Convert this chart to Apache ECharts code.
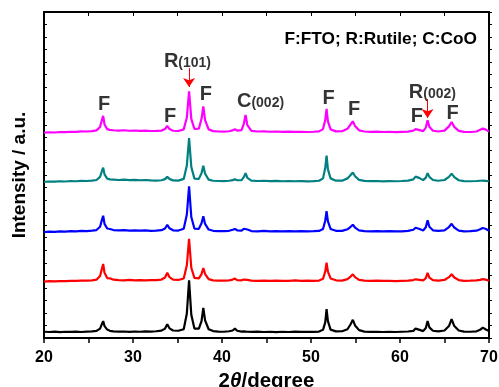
<!DOCTYPE html>
<html>
<head>
<meta charset="utf-8">
<script src="https://cdn.jsdelivr.net/npm/echarts@6/dist/echarts.min.js"></script>
<style>
  html, body { margin: 0; padding: 0; background: #fff; }
  #chart { width: 499px; height: 387px; }
</style>
</head>
<body>
<div id="chart"></div>
<script>
// Diffraction angle grid (2θ, degrees)
const twoTheta = [
  20.0, 20.6, 21.2, 21.8, 22.4, 23.0, 23.6, 24.2, 24.8, 25.4,
  25.9, 26.3, 26.5, 26.65, 26.8, 27.1, 27.4, 27.8, 28.4, 29.0,
  29.6, 30.2, 30.8, 31.4, 32.0, 32.6, 33.2, 33.6, 33.85, 34.1,
  34.5, 35.1, 35.7, 36.05, 36.3, 36.55, 36.9, 37.4, 37.7, 37.9,
  38.1, 38.5, 39.0, 39.6, 40.2, 40.8, 41.2, 41.45, 41.7, 42.2,
  42.45, 42.65, 42.85, 43.3, 44.0, 44.7, 45.4, 46.1, 46.8, 47.5,
  48.2, 48.9, 49.6, 50.3, 50.9, 51.35, 51.6, 51.75, 51.9, 52.2,
  52.8, 53.5, 54.1, 54.45, 54.7, 54.95, 55.4, 56.0, 56.7, 57.4,
  58.1, 58.8, 59.5, 60.2, 60.9, 61.5, 61.75, 61.95, 62.2, 62.6,
  62.9, 63.1, 63.3, 63.7, 64.3, 65.0, 65.5, 65.8, 66.1, 66.6,
  67.2, 67.9, 68.6, 69.0, 69.3, 69.6, 70.0
];

// Intensities (a.u.) of each pattern, relative to its own baseline
const blackPattern = [
  0.5, 0.3, 0.6, 0.2, 0.5, 0.4, 0.6, 0.3, 0.6, 0.8,
  1.2, 3.0, 6.5, 9.0, 5.0, 2.2, 1.2, 0.8, 0.6, 0.7,
  0.4, 0.7, 0.5, 0.8, 0.6, 0.9, 1.4, 3.0, 6.5, 3.2,
  1.5, 1.3, 2.5, 15, 41.5, 14, 3.0, 3.0, 9.0, 19.5,
  9.5, 2.5, 1.0, 0.6, 0.5, 0.9, 1.5, 3.0, 1.3, 0.6,
  0.8, 0.7, 0.5, 0.4, 0.6, 0.3, 0.5, 0.2, 0.5, 0.3,
  0.6, 0.4, 0.5, 0.4, 0.6, 2.0, 8.0, 18.5, 9.0, 2.2,
  0.8, 0.9, 2.5, 6.5, 10.0, 5.5, 1.8, 0.6, 0.4, 0.5,
  0.3, 0.5, 0.3, 0.5, 0.7, 1.2, 3.0, 3.8, 2.0, 1.0,
  3.5, 9.0, 4.0, 1.3, 0.8, 1.5, 5.0, 10.6, 5.0, 1.5,
  0.6, 0.5, 0.8, 2.0, 3.8, 2.5, 1.0
];
const redPattern = [
  0.0, 0.3, 0.1, 0.4, 0.3, 0.6, 0.5, 0.8, 0.7, 1.0,
  1.5, 4.5, 10, 14, 7, 2.8, 2.6, 1.5, 1.2, 1.0,
  1.3, 1.0, 1.2, 0.9, 1.1, 1.2, 1.6, 3.2, 7, 3.5,
  1.6, 1.3, 2.5, 13, 34, 11, 3.0, 2.6, 6.0, 10.7,
  6.0, 2.0, 1.0, 0.8, 0.7, 1.0, 1.6, 2.4, 1.2, 1.0,
  1.6, 2.2, 1.3, 0.8, 0.6, 0.8, 0.5, 0.7, 0.5, 0.6,
  0.9, 0.5, 0.7, 0.6, 0.8, 2.2, 8.0, 15, 8.0, 2.5,
  1.0, 0.8, 2.0, 4.0, 5.8, 3.5, 1.4, 0.7, 0.6, 0.8,
  0.5, 0.6, 0.4, 0.6, 0.7, 1.2, 1.8, 2.0, 1.4, 0.9,
  2.8, 7.0, 3.2, 1.2, 0.8, 1.3, 3.5, 5.8, 3.2, 1.2,
  0.6, 0.7, 0.9, 1.4, 2.0, 1.6, 0.8
];
const bluePattern = [
  0.0, 0.4, 0.2, 0.6, 0.4, 0.7, 0.6, 0.9, 0.8, 1.1,
  1.6, 4.2, 9.5, 13, 6.5, 2.8, 2.4, 1.6, 1.3, 1.5,
  1.2, 1.4, 1.1, 1.3, 1.0, 1.2, 1.5, 2.8, 5.8, 3.0,
  1.4, 1.2, 2.6, 14, 36.4, 12, 2.8, 2.6, 7.0, 12.5,
  6.5, 2.0, 1.0, 0.7, 0.8, 1.0, 1.8, 2.5, 1.4, 1.2,
  2.6, 4.0, 2.0, 0.8, 0.6, 0.9, 0.5, 0.7, 0.6, 0.8,
  0.5, 0.7, 0.5, 0.7, 0.9, 2.5, 9.0, 16.7, 8.5, 2.5,
  1.0, 0.9, 2.2, 4.2, 5.8, 3.6, 1.4, 0.7, 0.5, 0.7,
  0.5, 0.7, 0.5, 0.6, 0.9, 1.8, 3.4, 4.0, 2.4, 1.2,
  3.8, 9.3, 4.2, 1.4, 0.9, 1.4, 4.0, 6.6, 3.6, 1.2,
  0.6, 0.8, 1.1, 2.2, 3.2, 2.6, 1.0
];
const tealPattern = [
  0.0, 0.3, 0.2, 0.5, 0.3, 0.7, 0.5, 0.8, 0.7, 1.0,
  1.5, 4.0, 8.5, 11.4, 6.0, 2.6, 2.0, 1.8, 1.5, 1.8,
  1.4, 1.6, 1.3, 1.5, 1.2, 1.0, 1.3, 2.2, 4.0, 2.4,
  1.2, 1.0, 2.4, 13, 35, 12, 2.6, 2.4, 7.0, 12.8,
  6.5, 1.8, 0.9, 0.7, 0.6, 0.9, 1.4, 2.0, 1.3, 1.4,
  3.8, 7.0, 3.2, 1.0, 0.7, 0.9, 0.6, 0.8, 0.5, 0.7,
  0.5, 0.6, 0.4, 0.6, 0.9, 2.8, 11, 21, 10, 2.8,
  1.0, 1.0, 2.8, 5.5, 7.5, 4.5, 1.6, 0.8, 0.6, 0.7,
  0.4, 0.6, 0.5, 0.7, 1.0, 2.0, 4.2, 5.3, 3.0, 1.4,
  3.4, 7.0, 4.0, 1.5, 0.9, 1.5, 4.0, 6.6, 3.8, 1.3,
  0.6, 0.5, 0.7, 0.9, 1.0, 0.8, 0.5
];
const magentaPattern = [
  0.0, 0.3, 0.1, 0.5, 0.4, 0.7, 0.6, 1.0, 0.9, 1.2,
  1.8, 4.5, 10, 13.3, 6.5, 2.8, 2.2, 1.9, 1.6, 1.9,
  1.5, 1.7, 1.4, 1.6, 1.3, 1.4, 1.6, 2.8, 5.3, 2.8,
  1.5, 1.3, 2.6, 12, 33, 11, 3.0, 3.2, 11, 21,
  10, 2.6, 1.2, 0.9, 0.8, 1.1, 1.8, 2.7, 1.6, 2.0,
  7.0, 14, 6.0, 1.4, 0.9, 1.0, 0.7, 0.9, 0.6, 0.8,
  0.6, 0.7, 0.5, 0.7, 1.0, 2.8, 10, 19, 9, 2.6,
  1.0, 1.1, 3.0, 6.5, 9.0, 5.2, 1.8, 0.9, 0.6, 0.8,
  0.5, 0.7, 0.4, 0.6, 0.8, 1.6, 2.8, 3.2, 2.0, 1.2,
  4.0, 9.8, 4.6, 1.5, 0.9, 1.6, 5.0, 8.5, 4.6, 1.4,
  0.6, 0.5, 0.9, 2.2, 3.2, 2.6, 0.8
];

// Vertical stacking offsets (a.u.), bottom to top
const stackOffsets = [4.5, 45, 84.5, 124.5, 163.8];
const patterns = [blackPattern, redPattern, bluePattern, tealPattern, magentaPattern];
const patternNames = ['Pattern 1', 'Pattern 2', 'Pattern 3', 'Pattern 4', 'Pattern 5'];
const lineColors = ['#000000', '#ff0000', '#0000ff', '#008080', '#ff00ff'];

// Axis ranges and labelled ticks
const xTickLabels = [20, 30, 40, 50, 60, 70];
const xRange = [20, 70];
const yRange = [0, 260];

// Phase labels: [2θ, intensity, text]
const phaseLabels = [
  [26.74, 186.6, 'F'],
  [34.16, 177.0, 'F'],
  [36.12, 221.7, '{b|R}{s|(101)}'],
  [38.2, 194.6, 'F'],
  [44.33, 189.8, '{b|C}{s|(002)}'],
  [51.97, 191.4, 'F'],
  [54.83, 182.6, 'F'],
  [61.9, 177.0, 'F'],
  [63.64, 196.6, '{b|R}{s|(002)}'],
  [65.9, 179.4, 'F']
];
// Marker arrows for rutile reflections: [2θ, from, to]
const peakArrows = [
  [36.3, 215.3, 200.2],
  [63.1, 190.6, 175.4]
];
const phaseKey = 'F:FTO; R:Rutile; C:CoO';

const FONT = '"Liberation Sans", Arial, sans-serif';

const patternSeries = patterns.map((vals, k) => ({
  name: patternNames[k],
  type: 'line',
  showSymbol: false,
  symbol: 'none',
  animation: false,
  lineStyle: { color: lineColors[k], width: 2.2 },
  data: twoTheta.map((a, i) => [a, vals[i] + stackOffsets[k]]),
  z: 3
}));

const chart = echarts.init(document.getElementById('chart'), null, { renderer: 'canvas' });

chart.setOption({
  animation: false,
  backgroundColor: '#ffffff',
  grid: { left: 44, right: 10, top: 12, bottom: 49, outerBoundsMode: 'none' },
  title: {
    text: phaseKey,
    right: 17,
    top: 26,
    textStyle: { fontFamily: FONT, fontWeight: 'bold', fontSize: 17.3, color: '#000' }
  },
  xAxis: [
    {
      type: 'value', position: 'bottom', min: xRange[0], max: xRange[1], interval: 5,
      name: '2{i|θ}/degree',
      nameLocation: 'middle', nameGap: 29,
      nameTextStyle: {
        fontFamily: FONT, fontWeight: 'bold', fontSize: 20.5, color: '#000',
        rich: { i: { fontFamily: FONT, fontWeight: 'bold', fontStyle: 'italic', fontSize: 20.5, color: '#000' } }
      },
      axisLine: { show: true, onZero: false, lineStyle: { color: '#000', width: 2 } },
      axisTick: { show: true, inside: false, length: 5, lineStyle: { color: '#000', width: 1.5 } },
      axisLabel: {
        margin: 12,
        fontFamily: FONT, fontWeight: 'bold', fontSize: 16, color: '#000',
        formatter: v => (xTickLabels.indexOf(v) >= 0 ? String(v) : '')
      },
      splitLine: { show: false }
    },
    {
      type: 'value', position: 'top', min: xRange[0], max: xRange[1], interval: 5,
      axisLine: { show: true, onZero: false, lineStyle: { color: '#000', width: 2 } },
      axisTick: { show: true, inside: true, length: 4, lineStyle: { color: '#000', width: 1 } },
      axisLabel: { show: false },
      splitLine: { show: false }
    }
  ],
  yAxis: [
    {
      type: 'value', position: 'left', min: yRange[0], max: yRange[1], interval: 10,
      name: 'Intensity / a.u.',
      nameLocation: 'middle', nameGap: 15,
      nameTextStyle: { fontFamily: FONT, fontWeight: 'bold', fontSize: 19, color: '#000' },
      axisLine: { show: true, onZero: false, lineStyle: { color: '#000', width: 2 } },
      axisTick: { show: true, inside: true, length: 3, lineStyle: { color: '#000', width: 1 } },
      axisLabel: { show: false },
      splitLine: { show: false }
    },
    {
      type: 'value', position: 'right', min: yRange[0], max: yRange[1], interval: 10,
      axisLine: { show: true, onZero: false, lineStyle: { color: '#000', width: 2 } },
      axisTick: { show: true, inside: false, length: 3, lineStyle: { color: '#000', width: 1 } },
      axisLabel: { show: false },
      splitLine: { show: false }
    }
  ],
  series: patternSeries.concat([
    {
      name: 'phase labels',
      type: 'scatter',
      symbolSize: 0,
      silent: true,
      animation: false,
      z: 5,
      data: phaseLabels.map(p => [p[0], p[1]]),
      label: {
        show: true,
        position: 'inside',
        formatter: params => phaseLabels[params.dataIndex][2],
        fontFamily: FONT, fontWeight: 'bold', fontSize: 20, color: '#000',
        rich: {
          b: { fontFamily: FONT, fontWeight: 'bold', fontSize: 20, color: '#000', verticalAlign: 'bottom', lineHeight: 22 },
          s: { fontFamily: FONT, fontWeight: 'bold', fontSize: 14, color: '#000', verticalAlign: 'bottom', lineHeight: 18, padding: [0, 0, 1, 0] }
        }
      }
    },
    {
      name: 'rutile markers',
      type: 'lines',
      coordinateSystem: 'cartesian2d',
      silent: true,
      animation: false,
      z: 6,
      symbol: ['none', 'arrow'],
      symbolSize: [6, 9],
      lineStyle: { color: '#ff0000', width: 1, opacity: 1, curveness: 0 },
      data: peakArrows.map(a => ({ coords: [[a[0], a[1]], [a[0], a[2]]] }))
    }
  ])
});
</script>
</body>
</html>
